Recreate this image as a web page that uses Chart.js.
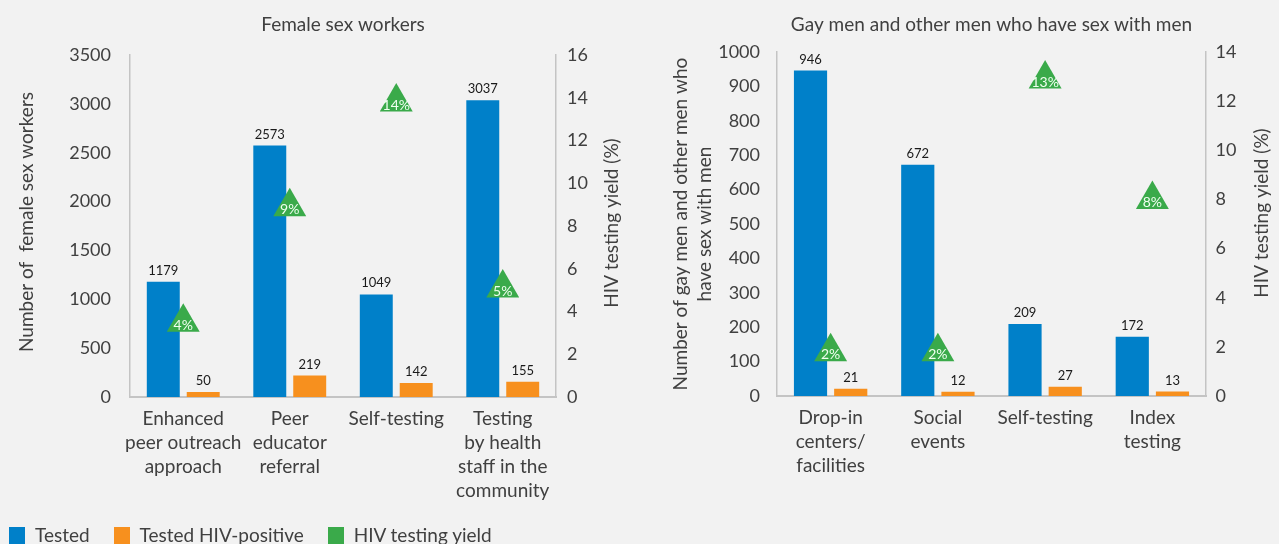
<!DOCTYPE html>
<html>
<head>
<meta charset="utf-8">
<script src="https://cdn.jsdelivr.net/npm/chart.js@4.4.1/dist/chart.umd.min.js"></script>
<style>
  html, body { margin: 0; padding: 0; background: #f2f2f2; overflow: hidden; }
  body { width: 1279px; height: 544px; position: relative; font-family: Lato, sans-serif; }
  canvas { position: absolute; top: 0; }
  #legend { position: absolute; left: 9px; top: 524px; display: flex; font-size: 19px; line-height: 22px; color: #404040; white-space: nowrap; }
  #legend .item { display: flex; align-items: flex-start; margin-right: 24px; }
  #legend .box { width: 16px; height: 18px; margin-top: 3px; margin-right: 10px; }
</style>
</head>
<body>
<canvas id="fsw" width="640" height="544" style="left:0"></canvas>
<canvas id="msm" width="639" height="544" style="left:640px"></canvas>
<div id="legend"></div>
<script>
// data
const seriesNames = ['Tested', 'Tested HIV-positive', 'HIV testing yield'];
const seriesColors = ['#0080c9', '#f7901e', '#3aaa4a'];

const fswTitle = 'Female sex workers';
const fswCategories = [
  ['Enhanced', 'peer outreach', 'approach'],
  ['Peer', 'educator', 'referral'],
  ['Self-testing'],
  ['Testing', 'by health', 'staff in the', 'community']
];
const fswTested = [1179, 2573, 1049, 3037];
const fswPositive = [50, 219, 142, 155];
const fswYield = [3.5, 8.9, 13.8, 5.1];

const msmTitle = 'Gay men and other men who have sex with men';
const msmCategories = [
  ['Drop-in', 'centers/', 'facilities'],
  ['Social', 'events'],
  ['Self-testing'],
  ['Index', 'testing']
];
const msmTested = [946, 672, 209, 172];
const msmPositive = [21, 12, 27, 13];
const msmYield = [1.8, 1.8, 12.9, 8.0];

const textColor = '#404040';
const axisColor = '#c4c4c4';

// value labels above bars, percentages inside the triangles
const valueLabels = {
  id: 'valueLabels',
  afterDatasetsDraw(chart) {
    const {ctx} = chart;
    ctx.save();
    ctx.textAlign = 'center';
    chart.data.datasets.forEach((ds, i) => {
      const meta = chart.getDatasetMeta(i);
      meta.data.forEach((el, j) => {
        const v = ds.data[j];
        if (ds.type === 'line') {
          ctx.font = '14px Lato';
          ctx.fillStyle = '#f0fff0';
          ctx.textBaseline = 'middle';
          ctx.fillText(Math.round(v) + '%', el.x, el.y + 3);
        } else {
          ctx.font = '13px Lato';
          ctx.fillStyle = '#1a1a1a';
          ctx.textBaseline = 'alphabetic';
          ctx.fillText(v, el.x, el.y - 7);
        }
      });
    });
    ctx.restore();
  }
};

// rotated axis titles, bottom-to-top like the original
const axisTitles = {
  id: 'axisTitles',
  afterDraw(chart, args, opts) {
    const {ctx} = chart;
    ctx.save();
    ctx.font = '19px Lato';
    ctx.fillStyle = textColor;
    ctx.textAlign = 'center';
    ctx.textBaseline = 'middle';
    opts.items.forEach(t => {
      ctx.save();
      ctx.translate(t.x, t.y);
      ctx.rotate(-Math.PI / 2);
      ctx.fillText(t.text, 0, 0);
      ctx.restore();
    });
    ctx.restore();
  }
};

function makeChart(canvasId, cfg) {
  return new Chart(document.getElementById(canvasId), {
    type: 'bar',
    data: {
      labels: cfg.categories,
      datasets: [
        {
          type: 'line',
          label: seriesNames[2],
          data: cfg.yieldData,
          yAxisID: 'y1',
          showLine: false,
          pointStyle: 'triangle',
          pointRadius: 19,
          pointBackgroundColor: seriesColors[2],
          pointBorderWidth: 0,
          order: 0
        },
        {
          label: seriesNames[0],
          data: cfg.tested,
          backgroundColor: seriesColors[0],
          yAxisID: 'y',
          order: 1
        },
        {
          label: seriesNames[1],
          data: cfg.positive,
          backgroundColor: seriesColors[1],
          yAxisID: 'y',
          order: 1
        }
      ]
    },
    options: {
      responsive: false,
      animation: false,
      events: [],
      categoryPercentage: 0.75,
      barPercentage: 0.825,
      layout: {padding: 0},
      scales: {
        x: {
          grid: {display: false, drawTicks: false},
          border: {color: axisColor, width: 2},
          ticks: {color: textColor, font: {family: 'Lato', size: 19, lineHeight: 1.263}, padding: 10, maxRotation: 0, autoSkip: false},
          afterFit(scale) { scale.height = cfg.xHeight; }
        },
        y: {
          position: 'left',
          min: 0, max: cfg.yMax,
          grid: {display: false, drawTicks: false},
          border: {color: axisColor, width: 1.5},
          ticks: {stepSize: cfg.yStep, color: textColor, font: {family: 'Lato', size: 18}, padding: cfg.yPad, callback: v => String(v)},
          afterFit(scale) { scale.width = cfg.yWidth; }
        },
        y1: {
          position: 'right',
          min: 0, max: cfg.y1Max,
          grid: {display: false, drawTicks: false},
          border: {color: axisColor, width: 1.5},
          ticks: {stepSize: 2, color: textColor, font: {family: 'Lato', size: 18}, padding: cfg.y1Pad, callback: v => String(v)},
          afterFit(scale) { scale.width = cfg.y1Width; }
        }
      },
      plugins: {
        legend: {display: false},
        tooltip: {enabled: false},
        title: {
          display: true,
          text: cfg.title,
          fullSize: false,
          color: textColor,
          font: {family: 'Lato', size: 19, weight: 'normal', lineHeight: 1.2},
          padding: {top: 13, bottom: cfg.titleBottom}
        },
        axisTitles: {items: cfg.axisTitles}
      }
    },
    plugins: [valueLabels, axisTitles]
  });
}

makeChart('fsw', {
  title: fswTitle,
  categories: fswCategories,
  tested: fswTested,
  positive: fswPositive,
  yieldData: fswYield,
  yMax: 3500, yStep: 500, y1Max: 16,
  yWidth: 130, y1Width: 84, yPad: 19, y1Pad: 11,
  xHeight: 147, titleBottom: 19.2,
  axisTitles: [
    {text: 'Number of  female sex workers', x: 27, y: 222},
    {text: 'HIV testing yield (%)', x: 612, y: 223}
  ]
});

makeChart('msm', {
  title: msmTitle,
  categories: msmCategories,
  tested: msmTested,
  positive: msmPositive,
  yieldData: msmYield,
  yMax: 1000, yStep: 100, y1Max: 14,
  yWidth: 137, y1Width: 73, yPad: 17, y1Pad: 9.5,
  xHeight: 148, titleBottom: 16.2,
  axisTitles: [
    {text: 'Number of gay men and other men who', x: 41, y: 224},
    {text: 'have sex with men', x: 65, y: 224},
    {text: 'HIV testing yield (%)', x: 622, y: 213}
  ]
});

// shared legend
const legend = document.getElementById('legend');
seriesNames.forEach((name, i) => {
  const item = document.createElement('div');
  item.className = 'item';
  item.innerHTML = '<span class="box" style="background:' + seriesColors[i] + '"></span><span>' + name + '</span>';
  legend.append(item);
});
</script>
</body>
</html>
